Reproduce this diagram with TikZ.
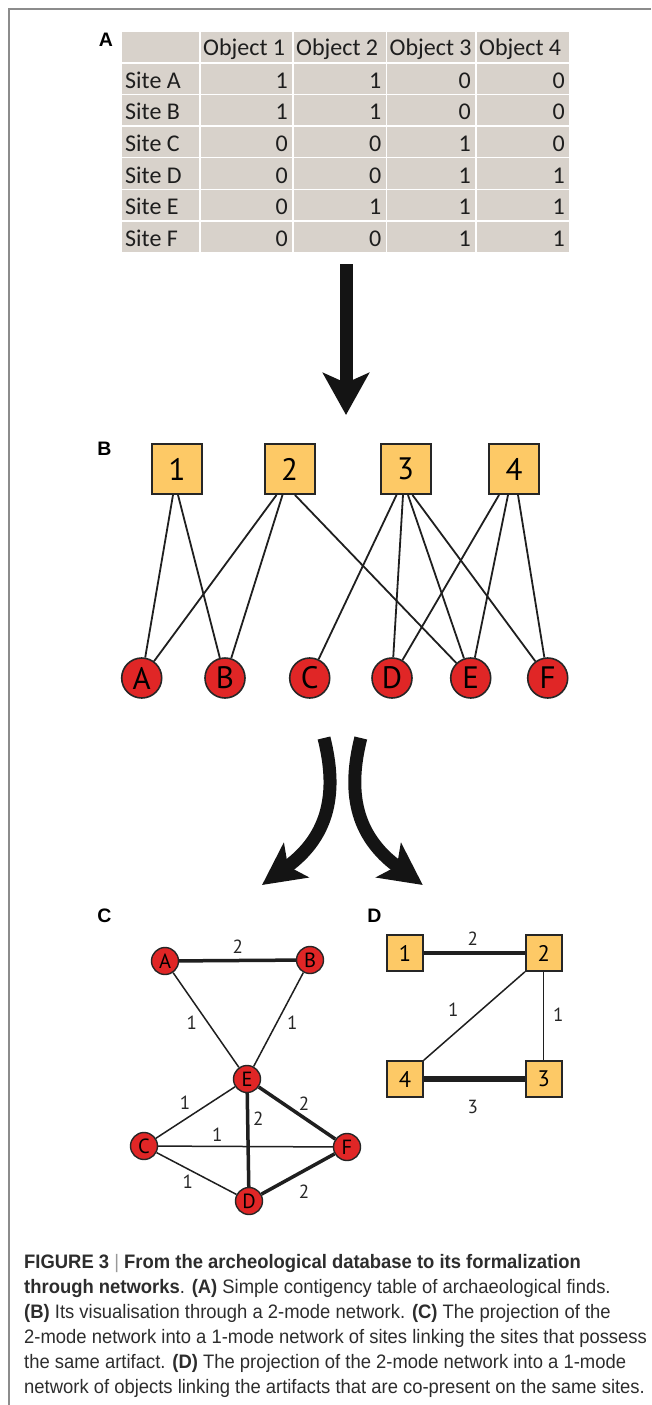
\documentclass[tikz,border=0pt]{standalone}
\usepackage{fontspec}
\usetikzlibrary{arrows.meta}
\newfontfamily\tabfont{Carlito}
\newfontfamily\netfont{PT Sans}
\newfontfamily\capfont[FakeStretch=0.945]{Liberation Sans}
\newfontfamily\panfont{Liberation Sans}
\definecolor{cellgray}{RGB}{216,210,203}
\definecolor{sqfill}{RGB}{253,201,102}
\definecolor{circfill}{RGB}{224,38,38}
\definecolor{framegray}{RGB}{140,140,140}
\definecolor{txt}{RGB}{30,30,30}
\definecolor{captxt}{RGB}{45,45,45}
\begin{document}
\begin{tikzpicture}[x=1pt,y=-1pt,
  tabtext/.style={font=\tabfont\fontsize{24}{28}\selectfont, text=txt, inner sep=0},
  objsq/.style={draw=black!85, line width=2, fill=sqfill, minimum size=50, inner sep=0, font=\netfont\fontsize{31}{33}\selectfont},
  sitec/.style={circle, draw=black!85, line width=1.6, fill=circfill, minimum size=40, inner sep=0, font=\netfont\fontsize{31}{33}\selectfont},
  bedge/.style={line width=1.8, draw=black!88},
  smallsite/.style={circle, draw=black!85, line width=1.4, fill=circfill, minimum size=27, inner sep=0, font=\netfont\fontsize{20.5}{22}\selectfont},
  smallobj/.style={draw=black!85, line width=1.6, fill=sqfill, minimum size=36, inner sep=0, font=\netfont\fontsize{22.5}{24}\selectfont},
  thinedge/.style={line width=1.5, draw=black!88},
  thickedge/.style={line width=3.5, draw=black!88},
  thickeredge/.style={line width=5.5, draw=black!88},
  wlabel/.style={font=\netfont\fontsize{19}{21}\selectfont, text=black!85, inner sep=0},
  panlabel/.style={font=\panfont\bfseries\fontsize{19.5}{22}\selectfont, inner sep=0},
  capline/.style={anchor=base west, inner sep=0, font=\capfont\fontsize{19.5}{25}\selectfont, text=captxt},
  bigarrow/.style={line width=13, draw=black!92, -{Stealth[length=42pt,width=46pt,inset=10pt]}},
  curvearrow/.style={line width=13, draw=black!92, -{Stealth[length=42pt,width=42pt,inset=10pt]}}
]
\useasboundingbox (0,0) rectangle (651,1405);
\fill[white] (0,0) rectangle (651,1405);
% frame
\draw[framegray, line width=1.5] (651,9) -- (9,9) -- (9,1405);

% ---------- Panel A: table ----------
\node[panlabel] (labA) at (106,40) {A};
\foreach \i in {0,...,6}{
  \foreach \xa/\xb in {122/199, 200.5/292, 293.5/385.5, 387/475, 476.5/569}{
    \fill[cellgray] (\xa,{32+31.6*\i}) rectangle (\xb,{32+31.6*\i+30.2});
  }
}
\node[tabtext, anchor=base west] (h1) at (203,56) {Object 1};
\node[tabtext, anchor=base west] (h2) at (296,56) {Object 2};
\node[tabtext, anchor=base west] (h3) at (389.5,56) {Object 3};
\node[tabtext, anchor=base west] (h4) at (479,56) {Object 4};
\foreach \s/\a/\b/\c/\d [count=\i] in {A/1/1/0/0, B/1/1/0/0, C/0/0/1/0, D/0/0/1/1, E/0/1/1/1, F/0/0/1/1}{
  \node[tabtext, anchor=base west] (site\s) at (125,{88.3+31.6*(\i-1)}) {Site \s};
  \node[tabtext, anchor=base east] (v\s1) at (288,{88.3+31.6*(\i-1)}) {\a};
  \node[tabtext, anchor=base east] (v\s2) at (381.5,{88.3+31.6*(\i-1)}) {\b};
  \node[tabtext, anchor=base east] (v\s3) at (471,{88.3+31.6*(\i-1)}) {\c};
  \node[tabtext, anchor=base east] (v\s4) at (565,{88.3+31.6*(\i-1)}) {\d};
}

% arrow A -> B
\coordinate (arA1) at (346,264);
\coordinate (arA2) at (346,415);
\draw[bigarrow] (arA1) -- (arA2);

% ---------- Panel B ----------
\node[panlabel] (labB) at (104.5,448.5) {B};
\node[objsq] (s1) at (177,469) {1};
\node[objsq] (s2) at (289.5,469) {2};
\node[objsq] (s3) at (405.5,469) {3};
\node[objsq] (s4) at (514,469) {4};
\node[sitec] (bA) at (141.7,678) {A};
\node[sitec] (bB) at (225,678) {B};
\node[sitec] (bC) at (309.7,678) {C};
\node[sitec] (bD) at (392,678) {D};
\node[sitec] (bE) at (470.7,678) {E};
\node[sitec] (bF) at (547.7,678) {F};
\draw[bedge] ([xshift=-4pt]s1.south) -- (bA);
\draw[bedge] ([xshift=1pt]s1.south) -- (bB);
\draw[bedge] ([xshift=-13pt]s2.south) -- (bA);
\draw[bedge] ([xshift=-7pt]s2.south) -- (bB);
\draw[bedge] ([xshift=5.5pt]s2.south) -- (bE);
\draw[bedge] ([xshift=-9pt]s3.south) -- (bC);
\draw[bedge] ([xshift=-2.5pt]s3.south) -- (bD);
\draw[bedge] ([xshift=2.5pt]s3.south) -- (bE);
\draw[bedge] ([xshift=7pt]s3.south) -- (bF);
\draw[bedge] ([xshift=-15pt]s4.south) -- (bD);
\draw[bedge] ([xshift=-6pt]s4.south) -- (bE);
\draw[bedge] ([xshift=4pt]s4.south) -- (bF);

% curved arrows
\coordinate (cl1) at (324,738);
\coordinate (cl2) at (262,885);
\coordinate (cr1) at (360.8,738);
\coordinate (cr2) at (422.8,885);
\draw[curvearrow] (cl1) .. controls (337,790) and (331,835) .. (cl2);
\draw[curvearrow] (cr1) .. controls (347.8,790) and (353.8,835) .. (cr2);

% ---------- Panel C ----------
\node[panlabel] (labC) at (104.5,915.5) {C};
\node[smallsite] (cA) at (165,961) {A};
\node[smallsite] (cB) at (310,960) {B};
\node[smallsite] (cE) at (247,1079) {E};
\node[smallsite] (cC) at (144,1146) {C};
\node[smallsite] (cF) at (347,1147) {F};
\node[smallsite] (cD) at (249,1201) {D};
\draw[thickedge] (cA) -- (cB);
\draw[thinedge] (cA) -- (cE);
\draw[thinedge] (cB) -- (cE);
\draw[thinedge] (cE) -- (cC);
\draw[thickedge] (cE) -- (cF);
\draw[thickedge] (cE) -- (cD);
\draw[thinedge] (cC) -- (cF);
\draw[thinedge] (cC) -- (cD);
\draw[thickedge] (cD) -- (cF);
\node[wlabel] (wAB) at (237.7,947) {2};
\node[wlabel] (wAE) at (191.7,1023) {1};
\node[wlabel] (wBE) at (292.3,1023) {1};
\node[wlabel] (wEC) at (185,1103) {1};
\node[wlabel] (wEF) at (304,1103.3) {2};
\node[wlabel] (wED) at (258.3,1119) {2};
\node[wlabel] (wCF) at (217.3,1135) {1};
\node[wlabel] (wCD) at (187.7,1182) {1};
\node[wlabel] (wDF) at (304,1191.7) {2};

% ---------- Panel D ----------
\node[panlabel] (labD) at (374.5,915.5) {D};
\node[smallobj] (d1) at (405,953) {1};
\node[smallobj] (d2) at (543.7,953) {2};
\node[smallobj] (d4) at (405,1079) {4};
\node[smallobj] (d3) at (543.7,1079) {3};
\draw[thickedge] (d1) -- (d2);
\draw[thinedge] (d2.south west) -- (d4.north east);
\draw[thinedge] (d2) -- (d3);
\draw[thickeredge] (d4) -- (d3);
\node[wlabel] (w12) at (472.7,938.3) {2};
\node[wlabel] (w24) at (453.3,1009.3) {1};
\node[wlabel] (w23) at (558.3,1015) {1};
\node[wlabel] (w43) at (472.7,1107.3) {3};

% ---------- Caption ----------
\node[capline] (cap1) at (24,1268) {\bfseries FIGURE 3 {\mdseries\color{gray!80}|} From the archeological database to its formalization};
\node[capline] (cap2) at (24,1293) {\textbf{through networks}. \textbf{(A)} Simple contigency table of archaeological finds.};
\node[capline] (cap3) at (24,1318) {\textbf{(B)} Its visualisation through a 2-mode network. \textbf{(C)} The projection of the};
\node[capline] (cap4) at (24,1343) {2-mode network into a 1-mode network of sites linking the sites that possess};
\node[capline] (cap5) at (24,1368) {the same artifact. \textbf{(D)} The projection of the 2-mode network into a 1-mode};
\node[capline] (cap6) at (24,1393) {network of objects linking the artifacts that are co-present on the same sites.};
\end{tikzpicture}
\end{document}
